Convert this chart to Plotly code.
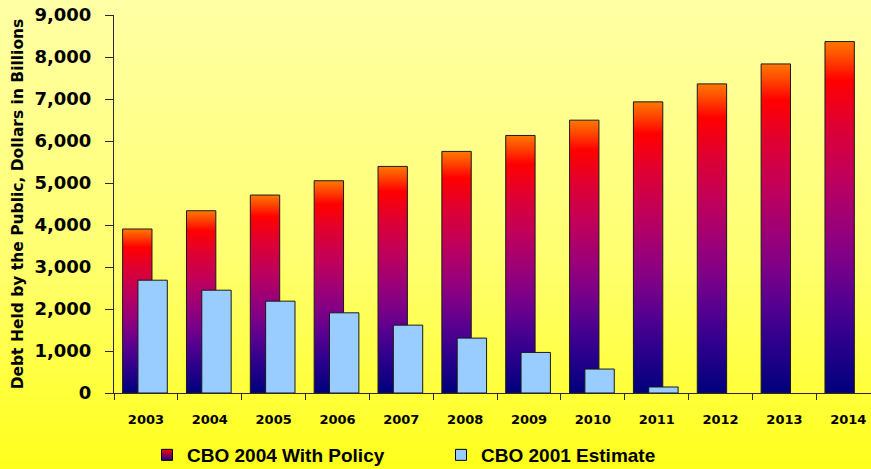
import base64
import plotly.graph_objects as go

# Federal debt held by the public, billions of dollars
years = ["2003", "2004", "2005", "2006", "2007", "2008",
         "2009", "2010", "2011", "2012", "2013", "2014"]
cbo_2004_policy = [3905, 4340, 4713, 5054, 5395, 5752, 6132, 6496, 6932, 7360, 7835, 8367]
cbo_2001_estimate = [2686, 2448, 2187, 1909, 1616, 1307, 966, 570, 143, None, None, None]
y_ticks = [0, 1000, 2000, 3000, 4000, 5000, 6000, 7000, 8000, 9000]

name_policy = "CBO 2004 With Policy"
name_estimate = "CBO 2001 Estimate"

W, H = 871, 469
M_L, M_R, M_T, M_B = 114, 0, 15, 76
CAT_W = 63.85  # px per year
X_MAX = (W - M_L - M_R) / CAT_W - 0.5

BAR_W = 0.46
POLICY_OFF = -0.365
ESTIMATE_OFF = -0.125

policy_scale = [
    [0.0, "#00007c"], [0.15, "#2c008c"], [0.27, "#560090"], [0.37, "#7a0088"],
    [0.47, "#98007a"], [0.62, "#c0005a"], [0.77, "#e00030"], [0.89, "#ff0000"],
    [0.96, "#ff5000"], [1.0, "#ff7800"],
]

TICK_FONT = dict(family="DejaVu Sans", size=18, color="#000000", weight="bold")
LABEL_FONT = dict(family="DejaVu Sans", size=13, color="#000000", weight="bold")
LEGEND_FONT = dict(family="Liberation Sans, Arial", size=19, color="#000000", weight="bold")

fig = go.Figure()


def bar_outline(i, value, offset):
    left, right = i + offset, i + offset + BAR_W
    return [left, left, right, right, left], [0, value, value, 0, 0]


# gradient-filled columns for the 2004 projection
for i, v in enumerate(cbo_2004_policy):
    xs, ys = bar_outline(i, v, POLICY_OFF)
    fig.add_trace(go.Scatter(
        x=xs, y=ys, mode="lines", fill="toself",
        line=dict(color="#1a1a1a", width=1),
        fillgradient=dict(type="vertical", colorscale=policy_scale, start=0, stop=v),
        showlegend=False, hoverinfo="skip",
    ))

# light blue columns for the 2001 estimate, drawn on top
for i, v in enumerate(cbo_2001_estimate):
    if v is None:
        continue
    xs, ys = bar_outline(i, v, ESTIMATE_OFF)
    fig.add_trace(go.Scatter(
        x=xs, y=ys, mode="lines", fill="toself",
        line=dict(color="#1a1a1a", width=1), fillcolor="#99ccff",
        showlegend=False, hoverinfo="skip",
    ))

# legend swatches
fig.add_trace(go.Scatter(
    x=[None], y=[None], mode="markers", name=name_policy,
    marker=dict(symbol="square", size=11, color="#ff0000",
                gradient=dict(type="vertical", color="#1a0090"),
                line=dict(color="#000000", width=1)),
))
fig.add_trace(go.Scatter(
    x=[None], y=[None], mode="markers", name=name_estimate,
    marker=dict(symbol="square", size=11, color="#99ccff",
                line=dict(color="#000000", width=1)),
))

svg = (
    '<svg xmlns="http://www.w3.org/2000/svg" width="20" height="200" preserveAspectRatio="none">'
    '<defs><linearGradient id="g" x1="0" y1="0" x2="0" y2="1">'
    '<stop offset="0" stop-color="#ffffa6"/>'
    '<stop offset="0.55" stop-color="#ffff70"/>'
    '<stop offset="1" stop-color="#ffff1c"/>'
    '</linearGradient></defs>'
    '<rect width="20" height="200" fill="url(#g)"/></svg>'
)
bg_src = "data:image/svg+xml;base64," + base64.b64encode(svg.encode()).decode()
pw, ph = W - M_L - M_R, H - M_T - M_B

fig.update_layout(
    width=W, height=H,
    margin=dict(l=M_L, r=M_R, t=M_T, b=M_B, pad=0, autoexpand=False),
    paper_bgcolor="#ffff40",
    plot_bgcolor="rgba(0,0,0,0)",
    images=[dict(
        source=bg_src, xref="paper", yref="paper",
        x=-M_L / pw, y=1 + M_T / ph, sizex=W / pw, sizey=H / ph,
        xanchor="left", yanchor="top", sizing="stretch", layer="below",
    )],
    xaxis=dict(
        range=[-0.5, X_MAX], tickmode="array",
        tickvals=list(range(len(years))), ticktext=years,
        ticks="", tickfont=LABEL_FONT, ticklabelstandoff=14,
        showline=True, linecolor="#2a2a2a", linewidth=1,
        showgrid=False, zeroline=False, fixedrange=True,
        minor=dict(tickvals=[i - 0.5 for i in range(len(years) + 1)],
                   ticks="outside", ticklen=6, tickcolor="#2a2a2a", tickwidth=1,
                   showgrid=False),
    ),
    yaxis=dict(
        range=[0, 9000], tickmode="array", tickvals=y_ticks,
        ticktext=[f"{t:,}" for t in y_ticks],
        ticks="outside", ticklen=8, tickcolor="#2a2a2a", tickfont=TICK_FONT,
        ticklabelstandoff=10,
        showline=True, linecolor="#2a2a2a", linewidth=1,
        showgrid=False, zeroline=False, fixedrange=True,
        title=dict(text="Debt Held by the Public, Dollars in Billions",
                   font=dict(family="DejaVu Sans", size=15.5, color="#000000", weight="bold"),
                   standoff=7),
    ),
    legend=dict(
        orientation="h", x=(147 - M_L) / pw, xanchor="left",
        yref="container", y=1 - 455 / H, yanchor="middle",
        font=LEGEND_FONT, bgcolor="rgba(0,0,0,0)", entrywidth=249,
        itemsizing="trace",
    ),
    showlegend=True,
)

fig.write_html("out.html")
